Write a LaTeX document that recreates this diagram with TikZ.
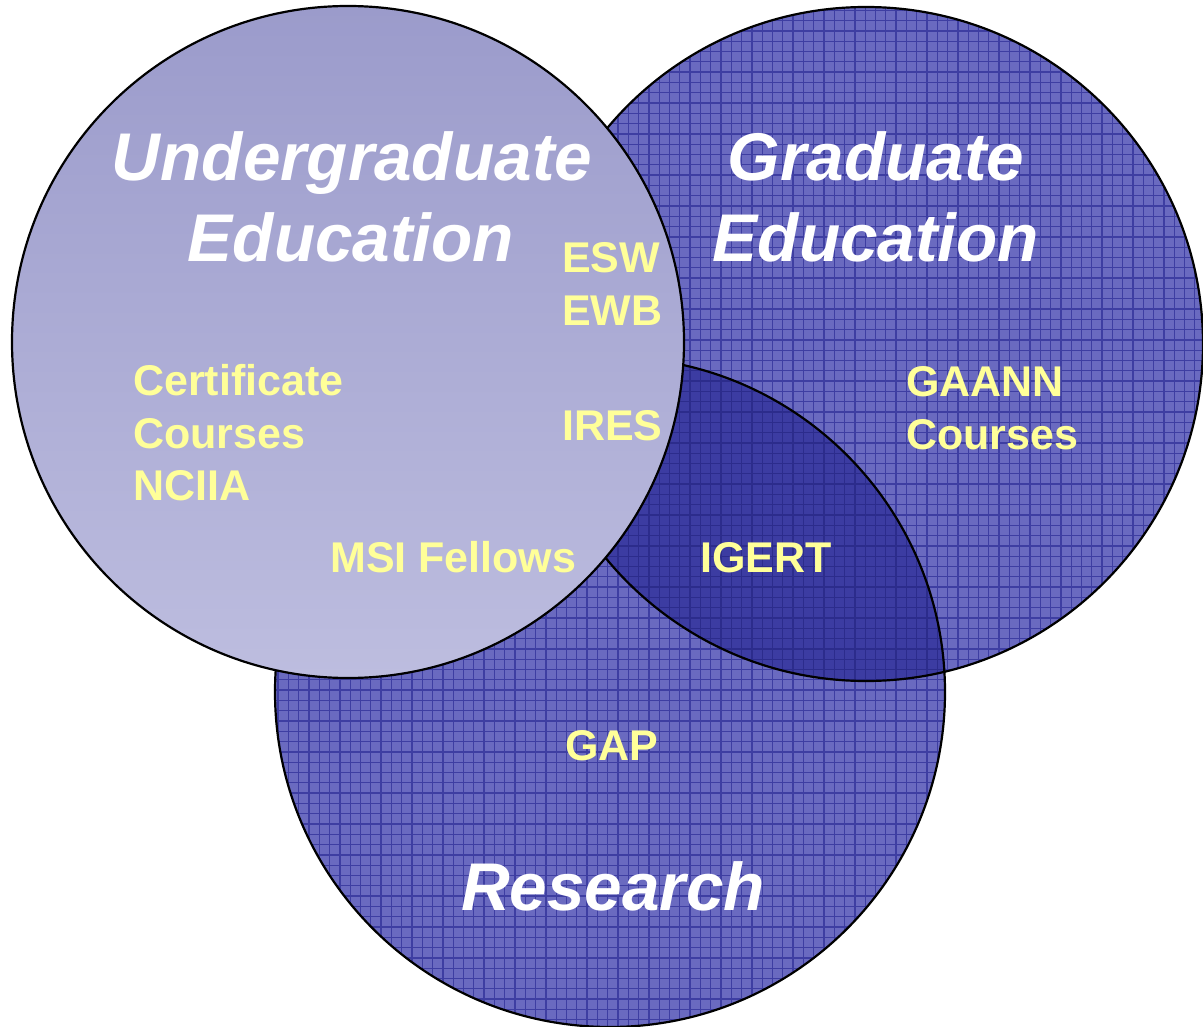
\documentclass[tikz,border=0pt]{standalone}
\usepackage{fontspec}
\setmainfont{Liberation Sans}
\definecolor{setfill}{HTML}{6A6AC0}
\definecolor{setgrid}{HTML}{3E3EA2}
\definecolor{bothfill}{HTML}{3C3CA2}
\definecolor{bothgrid}{HTML}{2C2C8C}
\definecolor{ugtop}{HTML}{9B9BCB}
\definecolor{ugbottom}{HTML}{BDBDDF}
\definecolor{labelyellow}{HTML}{FFFF99}
\begin{document}
\begin{tikzpicture}[x=1pt,y=-1pt,
  title/.style={text=white,font=\fontsize{67.5}{80}\selectfont\bfseries\itshape,anchor=base,inner sep=0pt},
  lbl/.style={text=labelyellow,font=\fontsize{43}{52}\selectfont\bfseries,anchor=base west,inner sep=0pt},
  rim/.style={draw=black,line width=2.2pt},
  mesh/.style={line width=1.3pt}]
\path[use as bounding box] (0,0) rectangle (1203,1027);

% circle centres
\coordinate (ug) at (348,342);
\coordinate (gr) at (866,344);
\coordinate (rs) at (610,692);
\def\rug{336}
\def\rgr{337}
\def\rrs{335}

% research and graduate sets: flat fill with a square mesh
\fill[setfill] (rs) circle[radius=\rrs];
\fill[setfill] (gr) circle[radius=\rgr];
\begin{scope}
  \clip (rs) circle[radius=\rrs];
  \foreach \i in {0,...,117} {
    \draw[setgrid,mesh] (\i*10.3,0) -- (\i*10.3,1027);
    \draw[setgrid,mesh] (0,\i*10.3) -- (1203,\i*10.3);
  }
\end{scope}
\begin{scope}
  \clip (gr) circle[radius=\rgr];
  \foreach \i in {0,...,117} {
    \draw[setgrid,mesh] (\i*10.3,0) -- (\i*10.3,1027);
    \draw[setgrid,mesh] (0,\i*10.3) -- (1203,\i*10.3);
  }
\end{scope}

% overlap of graduate and research
\begin{scope}
  \clip (rs) circle[radius=\rrs];
  \clip (gr) circle[radius=\rgr];
  \fill[bothfill] (0,0) rectangle (1203,1027);
  \foreach \i in {0,...,117} {
    \draw[bothgrid,mesh] (\i*10.3,0) -- (\i*10.3,1027);
    \draw[bothgrid,mesh] (0,\i*10.3) -- (1203,\i*10.3);
  }
\end{scope}
\draw[rim] (rs) circle[radius=\rrs];
\draw[rim] (gr) circle[radius=\rgr];

% undergraduate set on top
\shade[top color=ugtop,bottom color=ugbottom] (ug) circle[radius=\rug];
\draw[rim] (ug) circle[radius=\rug];

% set titles
\node[title] (ugt1) at (352,181) {Undergraduate};
\node[title] (ugt2) at (351,262) {Education};
\node[title] (grt1) at (876,181) {Graduate};
\node[title] (grt2) at (876,262) {Education};
\node[title] (rst) at (613,910) {Research};

% programmes
\node[lbl] (esw) at (562,273) {ESW};
\node[lbl] (ewb) at (562,325) {EWB};
\node[lbl] (ires) at (562,440) {IRES};
\node[lbl] (cert) at (133,395) {Certificate};
\node[lbl] (ugcourses) at (133,448) {Courses};
\node[lbl] (nciia) at (133,500) {NCIIA};
\node[lbl] (msi) at (330,572) {MSI Fellows};
\node[lbl] (igert) at (700,572) {IGERT};
\node[lbl] (gaann) at (906,396) {GAANN};
\node[lbl] (grcourses) at (906,449) {Courses};
\node[lbl] (gap) at (565,760) {GAP};
\end{tikzpicture}
\end{document}
